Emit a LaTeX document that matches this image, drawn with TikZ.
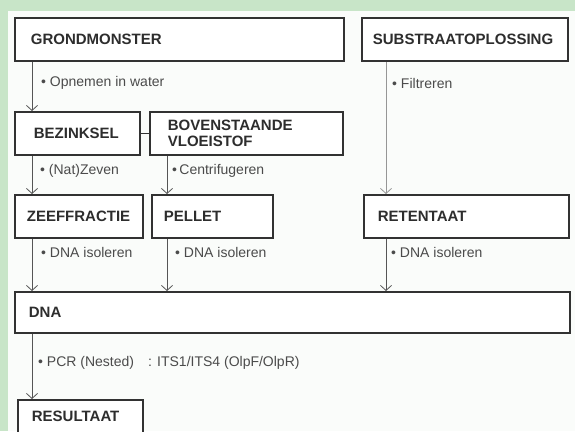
\documentclass[tikz,border=0pt]{standalone}
\usepackage{fontspec}
\setmainfont{Liberation Sans}
\usetikzlibrary{arrows.meta}
\definecolor{bggreen}{RGB}{200,229,200}
\definecolor{panel}{RGB}{250,252,250}
\definecolor{boxline}{RGB}{50,50,50}
\definecolor{lineg}{RGB}{85,85,85}
\definecolor{linelight}{RGB}{150,150,150}
\definecolor{txt}{RGB}{45,45,45}
\definecolor{txtl}{RGB}{75,75,75}
\newcommand\mybox[7]{%
  \pgfmathsetmacro\bw{#4-#2}%
  \pgfmathsetmacro\bh{#5-#3}%
  \pgfmathsetmacro\tw{#4-#2-2*#6}%
  \node[box, minimum width=\bw pt, minimum height=\bh pt, inner xsep=#6pt, text width=\tw pt] (#1) at (#2,#3) {#7};}
\begin{document}
\begin{tikzpicture}[x=1pt,y=-1pt,
  box/.style={draw=boxline, line width=1.8pt, fill=white, anchor=north west, align=left,
    font=\fontsize{15}{16}\selectfont\bfseries, text=txt, inner ysep=0pt},
  flow/.style={draw=lineg, line width=1pt, -{Straight Barb[length=5pt,width=11pt,line width=0.8pt]}},
  lbl/.style={anchor=west, font=\fontsize{14}{15}\selectfont, text=txtl, inner sep=0pt}]
\useasboundingbox (0,0) rectangle (575,431);
\begin{scope}
\clip (0,0) rectangle (575,431);
\fill[bggreen] (0,0) rectangle (575,431);
\fill[panel] (8,11) rectangle (575,431);

\mybox{gm}{14}{17}{343}{60}{16}{GRONDMONSTER}
\mybox{sub}{361}{17}{567}{60}{11}{SUBSTRAATOPLOSSING}
\mybox{bez}{14}{111}{139}{154}{19}{BEZINKSEL}
\mybox{bov}{149}{111}{342}{154}{18}{BOVENSTAANDE\\VLOEISTOF}
\mybox{zee}{14}{194}{142}{237}{12}{ZEEFFRACTIE}
\mybox{pel}{151}{194}{272}{237}{12}{PELLET}
\mybox{ret}{363}{194}{568}{237}{14}{RETENTAAT}
\mybox{dna}{14}{291}{569}{332}{14}{DNA}
\mybox{res}{17}{399}{142}{432}{14}{RESULTAAT}

\draw[draw=boxline, line width=1.8pt] (bez.east) -- (bov.west);

\draw[flow] ([xshift=18pt]gm.south west) -- ([xshift=18pt]bez.north west);
\draw[flow, draw=linelight] ([xshift=25pt]sub.south west) -- ([xshift=23pt]ret.north west);
\draw[flow] ([xshift=18pt]bez.south west) -- ([xshift=18pt]zee.north west);
\draw[flow] ([xshift=18pt]bov.south west) -- ([xshift=16pt]pel.north west);
\draw[flow] ([xshift=18pt]zee.south west) -- ([xshift=18pt]dna.north west);
\draw[flow] ([xshift=16pt]pel.south west) -- ([xshift=153pt]dna.north west);
\draw[flow] ([xshift=23pt]ret.south west) -- ([xshift=372pt]dna.north west);
\draw[flow] ([xshift=18pt]dna.south west) -- ([xshift=15pt]res.north west);

\node[lbl] (l1) at (41,83) {\textbullet\ Opnemen in water};
\node[lbl] (l2) at (392,83) {\textbullet\ Filtreren};
\node[lbl] (l3) at (40,171) {\textbullet\ (Nat)Zeven};
\node[lbl] (l4) at (172,171) {\textbullet\,Centrifugeren};
\node[lbl] (l5) at (41,252) {\textbullet\ DNA isoleren};
\node[lbl] (l6) at (175,252) {\textbullet\ DNA isoleren};
\node[lbl] (l7) at (391,252) {\textbullet\ DNA isoleren};
\node[lbl] (l8) at (38,363) {\textbullet\ PCR (Nested)\hspace{14pt}: ITS1/ITS4 (OlpF/OlpR)};
\end{scope}
\end{tikzpicture}
\end{document}
